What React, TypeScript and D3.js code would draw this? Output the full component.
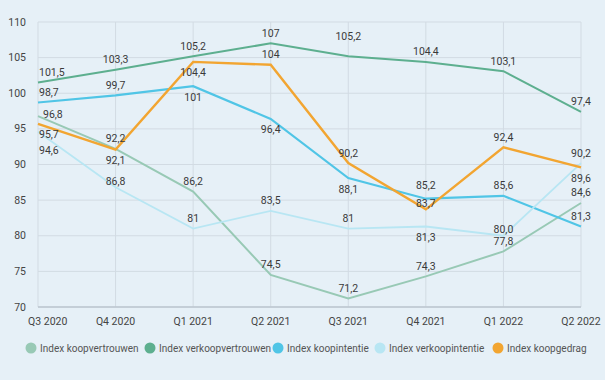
import React from "react";
import * as d3 from "d3";

const categories = ["Q3 2020", "Q4 2020", "Q1 2021", "Q2 2021", "Q3 2021", "Q4 2021", "Q1 2022", "Q2 2022"];
const yTicks = [70, 75, 80, 85, 90, 95, 100, 105, 110];

const koopvertrouwen = [96.8, 92.2, 86.2, 74.5, 71.2, 74.3, 77.8, 84.6];
const verkoopvertrouwen = [101.5, 103.3, 105.2, 107, 105.2, 104.4, 103.1, 97.4];
const koopintentie = [98.7, 99.7, 101, 96.4, 88.1, 85.2, 85.6, 81.3];
const verkoopintentie = [94.6, 86.8, 81, 83.5, 81, 81.3, 80.0, 90.2];
const koopgedrag = [95.7, 92.1, 104.4, 104, 90.2, 83.7, 92.4, 89.6];

const seriesNames = [
  "Index koopvertrouwen",
  "Index verkoopvertrouwen",
  "Index koopintentie",
  "Index verkoopintentie",
  "Index koopgedrag",
];
const seriesValues = [koopvertrouwen, verkoopvertrouwen, koopintentie, verkoopintentie, koopgedrag];
const seriesColors = ["#98c9b5", "#5daf8f", "#50c5e6", "#b8e6f3", "#f2a531"];
const seriesWidths = [2, 2, 2.2, 1.8, 2.4];
// label placement: a = above, A = far above, h = higher above, m = slightly above,
// b = below, B = far below, r = right
const labelPlacement = [
  ["r", "a", "a", "a", "a", "a", "a", "a"],
  ["a", "a", "a", "a", "A", "a", "a", "a"],
  ["a", "a", "b", "b", "b", "h", "a", "a"],
  ["B", "m", "a", "a", "a", "b", "m", "a"],
  ["b", "b", "b", "a", "a", "m", "a", "b"],
];
const labelDisplay = [
  ["96,8", "92,2", "86,2", "74,5", "71,2", "74,3", "77,8", "84,6"],
  ["101,5", "103,3", "105,2", "107", "105,2", "104,4", "103,1", "97,4"],
  ["98,7", "99,7", "101", "96,4", "88,1", "85,2", "85,6", "81,3"],
  ["94,6", "86,8", "81", "83,5", "81", "81,3", "80,0", "90,2"],
  ["95,7", "92,1", "104,4", "104", "90,2", "83,7", "92,4", "89,6"],
];

const W = 605;
const H = 380;
const FONT = "Roboto, 'Noto Sans', sans-serif";

export default function App() {
  const x = d3.scalePoint<string>().domain(categories).range([38, 581]);
  const y = d3.scaleLinear().domain([70, 110]).range([307, 22]);
  const left = x(categories[0])!;
  const right = x(categories[categories.length - 1])!;
  const line = d3
    .line<number>()
    .x((_, i) => x(categories[i])!)
    .y((d) => y(d));

  const offsets: Record<string, number> = { a: -10, A: -20, h: -13, m: -6, b: 11, B: 19, r: -2 };

  const legendX = [31, 150, 278, 380, 498];

  return (
    <div style={{ position: "fixed", left: 0, top: 0 }}>
      <svg width={W} height={H} style={{ display: "block", fontFamily: FONT }}>
        <rect x={0} y={0} width={W} height={H} fill="#e6f0f7" />
        {yTicks.map((t) => (
          <line key={"h" + t} x1={left} x2={right} y1={y(t)} y2={y(t)} stroke="#d2dbe3" strokeWidth={1} />
        ))}
        {categories.map((c) => (
          <line key={"v" + c} x1={x(c)} x2={x(c)} y1={y(110)} y2={y(70)} stroke="#d2dbe3" strokeWidth={1} />
        ))}
        <line x1={left} x2={right} y1={y(70)} y2={y(70)} stroke="#bcc6cf" strokeWidth={1.5} />
        {yTicks.map((t) => (
          <text key={"yt" + t} x={26} y={y(t)} textAnchor="end" dominantBaseline="central" fontSize={10.5} fill="#444">
            {t}
          </text>
        ))}
        {categories.map((c, i) => (
          <text
            key={"xt" + c}
            x={i === 0 ? x(c)! - 10 : x(c)}
            y={321}
            textAnchor={i === 0 ? "start" : "middle"}
            dominantBaseline="central"
            fontSize={10.5}
            fill="#444"
          >
            {c}
          </text>
        ))}
        {seriesValues.map((vals, s) => (
          <path
            key={"l" + s}
            d={line(vals) || ""}
            fill="none"
            stroke={seriesColors[s]}
            strokeWidth={seriesWidths[s]}
            strokeLinejoin="miter"
          />
        ))}
        {seriesValues.map((vals, s) =>
          vals.map((v, i) => {
            const p = labelPlacement[s][i];
            const px = x(categories[i])!;
            const first = i === 0;
            return (
              <text
                key={"d" + s + "-" + i}
                x={first ? px + (p === "r" ? 5 : 1) : px}
                y={y(v) + offsets[p]}
                textAnchor={first ? "start" : "middle"}
                dominantBaseline="central"
                fontSize={10.5}
                fill="#3a3a3a"
              >
                {labelDisplay[s][i]}
              </text>
            );
          })
        )}
        {seriesNames.map((n, s) => (
          <g key={"lg" + s}>
            <circle cx={legendX[s]} cy={348} r={5.5} fill={seriesColors[s]} />
            <text x={legendX[s] + 9} y={348} dominantBaseline="central" fontSize={10} fill="#555">
              {n}
            </text>
          </g>
        ))}
      </svg>
    </div>
  );
}
